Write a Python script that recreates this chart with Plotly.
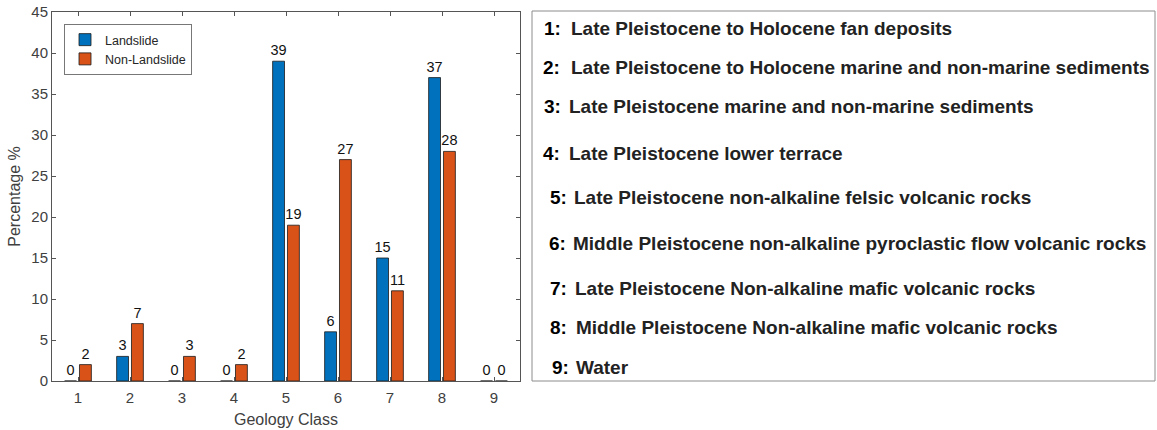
import plotly.graph_objects as go

# ---- data ----
classes = [1, 2, 3, 4, 5, 6, 7, 8, 9]
landslide = [0, 3, 0, 0, 39, 6, 15, 37, 0]
non_landslide = [2, 7, 3, 2, 19, 27, 11, 28, 0]
series_names = ["Landslide", "Non-Landslide"]
y_ticks = [0, 5, 10, 15, 20, 25, 30, 35, 40, 45]

class_ids = ["1:", "2:", "3:", "4:", "5:", "6:", "7:", "8:", "9:"]
class_names = [
    "Late Pleistocene to Holocene fan deposits",
    "Late Pleistocene to Holocene marine and non-marine sediments",
    "Late Pleistocene marine and non-marine sediments",
    "Late Pleistocene lower terrace",
    "Late Pleistocene non-alkaline felsic volcanic rocks",
    "Middle Pleistocene non-alkaline pyroclastic flow volcanic rocks",
    "Late Pleistocene Non-alkaline mafic volcanic rocks",
    "Middle Pleistocene Non-alkaline mafic volcanic rocks",
    "Water",
]

# ---- page geometry (pixels) ----
W, H = 1157, 430
FONT = "Liberation Sans, Arial, Helvetica, sans-serif"
AX = "#555555"
BLUE = "#0072BD"
ORANGE = "#D95319"


def px_x(p):
    return p / W


def px_y(p):
    return (H - p) / H


fig = go.Figure()
for name, vals, color in [(series_names[0], landslide, BLUE),
                          (series_names[1], non_landslide, ORANGE)]:
    fig.add_trace(go.Bar(
        x=classes, y=vals, name=name,
        marker=dict(color=color, line=dict(color="#1a1a1a", width=0.8)),
        text=vals, texttemplate="%{y}", textposition="outside",
        textfont=dict(family=FONT, size=14.5, color="#111111"),
        constraintext="none", cliponaxis=False,
    ))

axis_common = dict(
    showline=True, linecolor=AX, linewidth=1, mirror="ticks",
    ticks="inside", ticklen=4, tickcolor=AX, showgrid=False, zeroline=False,
    tickfont=dict(family=FONT, size=15, color="#404040"),
)

fig.update_layout(
    width=W, height=H,
    margin=dict(l=0, r=0, t=0, b=0, autoexpand=False),
    paper_bgcolor="white", plot_bgcolor="white",
    barmode="group", bargap=0.4286, bargroupgap=0.2,
    font=dict(family=FONT),
    xaxis=dict(
        domain=[px_x(52), px_x(520)], range=[0.5, 9.5],
        tickmode="array", tickvals=classes, ticklabelstandoff=3,
        title=dict(text="Geology Class", font=dict(family=FONT, size=16, color="#404040"), standoff=8),
        **axis_common,
    ),
    yaxis=dict(
        domain=[px_y(381), px_y(12)], range=[0, 45],
        tickmode="array", tickvals=y_ticks,
        title=dict(text="Percentage %", font=dict(family=FONT, size=16, color="#404040"), standoff=6),
        **axis_common,
    ),
    legend=dict(
        x=px_x(64), y=px_y(24), xanchor="left", yanchor="top",
        bgcolor="white", bordercolor="#777777", borderwidth=1,
        font=dict(family=FONT, size=12.5, color="#262626"),
        tracegroupgap=0, itemwidth=30,
    ),
    showlegend=True,
)

# ---- class description panel ----
fig.add_shape(type="rect", xref="paper", yref="paper",
              x0=px_x(532), x1=px_x(1155), y0=px_y(381), y1=px_y(11),
              line=dict(color="#8c8c8c", width=1), fillcolor="white", layer="below")

line_y = [28, 68, 107, 153, 198, 243, 288, 327, 367]
num_x = [542, 541, 542, 541, 548, 547, 548, 548, 550]
txt_x = [569, 569, 567, 567, 572, 571, 573, 574, 574]
for cid, cname, yy, nx, tx in zip(class_ids, class_names, line_y, num_x, txt_x):
    fig.add_annotation(xref="paper", yref="paper", x=px_x(nx), y=px_y(yy),
                       xanchor="left", yanchor="middle", showarrow=False,
                       text="<b>" + cid + "</b>",
                       font=dict(family=FONT, size=19, color="#000000"))
    fig.add_annotation(xref="paper", yref="paper", x=px_x(tx), y=px_y(yy),
                       xanchor="left", yanchor="middle", showarrow=False,
                       text="<b>" + cname + "</b>",
                       font=dict(family=FONT, size=19, color="#222222"))

fig.write_html("out.html")
